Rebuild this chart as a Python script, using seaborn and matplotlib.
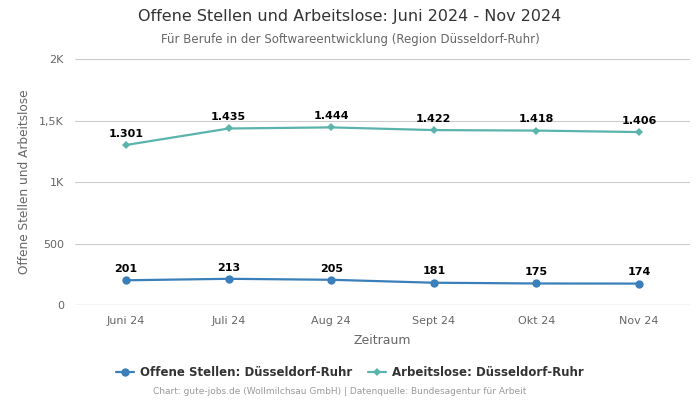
import pandas as pd
import seaborn as sns
import matplotlib.pyplot as plt

months = ["Juni 24", "Juli 24", "Aug 24", "Sept 24", "Okt 24", "Nov 24"]
offene_stellen = [201, 213, 205, 181, 175, 174]
arbeitslose = [1301, 1435, 1444, 1422, 1418, 1406]
series_names = ["Offene Stellen: Düsseldorf-Ruhr", "Arbeitslose: Düsseldorf-Ruhr"]
y_ticks = [0, 500, 1000, 1500, 2000]
y_tick_labels = ["0", "500", "1K", "1,5K", "2K"]

colors = ["#3a7fba", "#5ab4ac"]
markers = ["o", "D"]

df = pd.DataFrame({
    "Zeitraum": months * 2,
    "Wert": offene_stellen + arbeitslose,
    "Serie": [series_names[0]] * len(months) + [series_names[1]] * len(months),
})
df["pos"] = list(range(len(months))) * 2

sns.set_style("white")
plt.rcParams["font.family"] = ["DejaVu Sans"]

fig = plt.figure(figsize=(7, 4), dpi=100)
ax = fig.add_axes([0.107, 0.2375, 0.879, 0.615])

for i, name in enumerate(series_names):
    sub = df[df["Serie"] == name]
    sns.lineplot(data=sub, x="pos", y="Wert", ax=ax, color=colors[i], marker=markers[i],
                 markersize=6 if i == 0 else 4.5, markeredgewidth=0, linewidth=1.6, label=name)
    for x, y in zip(sub["pos"], sub["Wert"]):
        txt = f"{y:,}".replace(",", ".")
        ax.annotate(txt, (x, y), xytext=(0, 4.5), textcoords="offset points", ha="center",
                    va="bottom", fontsize=8, fontweight="bold", color="black")

ax.set_xlim(-0.5, len(months) - 0.5)
ax.set_ylim(0, 2000)
ax.set_xticks(range(len(months)))
ax.set_xticklabels(months)
ax.set_yticks(y_ticks)
ax.set_yticklabels(y_tick_labels)
ax.tick_params(axis="both", length=0, labelsize=8, labelcolor="#666666", pad=8)
ax.grid(axis="y", color="#cccccc", linewidth=0.8)
for s in ax.spines.values():
    s.set_visible(False)
ax.axhline(0, color="#ccd6eb", linewidth=1)

ax.set_xlabel("Zeitraum", fontsize=9, color="#666666", labelpad=6)
ax.set_ylabel("Offene Stellen und Arbeitslose", fontsize=8.7, color="#666666", labelpad=6)

fig.text(0.5, 0.958, "Offene Stellen und Arbeitslose: Juni 2024 - Nov 2024", ha="center", va="center",
         fontsize=11.5, color="#333333")
fig.text(0.5, 0.902, "Für Berufe in der Softwareentwicklung (Region Düsseldorf-Ruhr)", ha="center",
         va="center", fontsize=8.5, color="#666666")

ax.legend(loc="center", bbox_to_anchor=(0.447, -0.275), ncol=2, frameon=False,
          prop={"size": 8.5, "weight": "bold"}, labelcolor="#333333", handlelength=1.5,
          handletextpad=0.5, columnspacing=1.4)

fig.text(0.485, 0.02, "Chart: gute-jobs.de (Wollmilchsau GmbH) | Datenquelle: Bundesagentur für Arbeit",
         ha="center", va="center", fontsize=6.5, color="#999999")

fig.savefig("out.png", dpi=100)
